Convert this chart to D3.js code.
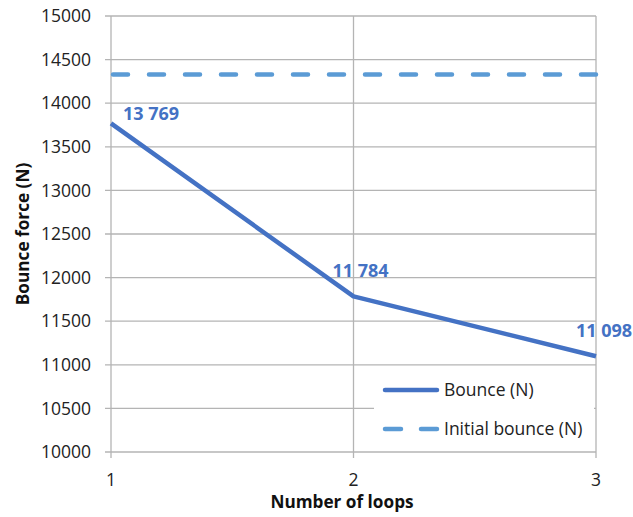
<!DOCTYPE html>
<html><head><meta charset="utf-8">
<script src="https://cdn.jsdelivr.net/npm/d3@7"></script>
<style>body{margin:0;background:#fff}</style>
</head><body>
<svg id="c" width="633" height="517"></svg>
<script>
const loops = [1, 2, 3];
const bounce = [13769, 11784, 11098];
const bounceLabels = ["13 769", "11 784", "11 098"];
const initialBounce = 14330;
const yTicks = [10000, 10500, 11000, 11500, 12000, 12500, 13000, 13500, 14000, 14500, 15000];
const xTicks = [1, 2, 3];

const svg = d3.select("#c");
const m = {l: 111, r: 596, t: 16, b: 452};
const x = d3.scaleLinear().domain([1, 3]).range([m.l, m.r]);
const y = d3.scaleLinear().domain([10000, 15000]).range([m.b, m.t]);
const grid = "#b4b4b4";
const font = "'Open Sans', sans-serif";

// horizontal gridlines
svg.append("g").selectAll("line").data(yTicks).join("line")
  .attr("x1", m.l - 6).attr("x2", m.r)
  .attr("y1", d => y(d)).attr("y2", d => y(d))
  .attr("stroke", grid).attr("stroke-width", 1.3);
// vertical gridlines
svg.append("g").selectAll("line").data(xTicks).join("line")
  .attr("x1", d => x(d)).attr("x2", d => x(d))
  .attr("y1", m.t).attr("y2", m.b + 6)
  .attr("stroke", grid).attr("stroke-width", 1.3);

// y tick labels
svg.append("g").selectAll("text").data(yTicks).join("text")
  .attr("x", 91).attr("y", d => y(d)).attr("dy", "0.35em")
  .attr("text-anchor", "end").attr("font-family", font).attr("font-size", 17.5)
  .attr("fill", "#222").text(d => d);
// x tick labels
svg.append("g").selectAll("text").data(xTicks).join("text")
  .attr("x", d => x(d)).attr("y", 486)
  .attr("text-anchor", "middle").attr("font-family", font).attr("font-size", 17.5)
  .attr("fill", "#222").text(d => d);

// axis titles
svg.append("text").attr("x", 342).attr("y", 508).attr("text-anchor", "middle")
  .attr("font-family", font).attr("font-size", 17.2).attr("font-weight", "bold")
  .attr("fill", "#111").text("Number of loops");
svg.append("text").attr("transform", `translate(29,234) rotate(-90)`)
  .attr("text-anchor", "middle")
  .attr("font-family", font).attr("font-size", 17.2).attr("font-weight", "bold")
  .attr("fill", "#111").text("Bounce force (N)");

// initial bounce dashed line
svg.append("line").attr("x1", x(1)).attr("x2", x(3))
  .attr("y1", y(initialBounce)).attr("y2", y(initialBounce))
  .attr("stroke", "#5b9bd5").attr("stroke-width", 4.5)
  .attr("stroke-dasharray", "15,21").attr("stroke-dashoffset", -2)
  .attr("stroke-linecap", "round");

// bounce line
const line = d3.line().x((d, i) => x(loops[i])).y(d => y(d));
svg.append("path").datum(bounce).attr("d", line)
  .attr("fill", "none").attr("stroke", "#4472c4").attr("stroke-width", 4.5)
  .attr("stroke-linejoin", "round");

// data labels
const labelDx = [12, -21, -20];
const labelDy = [-10, -26, -26];
svg.append("g").selectAll("text").data(bounce).join("text")
  .attr("x", (d, i) => x(loops[i]) + labelDx[i])
  .attr("y", (d, i) => y(d) + labelDy[i]).attr("dy", "0.35em")
  .attr("font-family", font).attr("font-size", 18).attr("font-weight", "bold")
  .attr("fill", "#4472c4").text((d, i) => bounceLabels[i]);

// legend
const lg = svg.append("g");
lg.append("rect").attr("x", 374).attr("y", 369).attr("width", 220).attr("height", 81).attr("fill", "#fff");
lg.append("line").attr("x1", 385).attr("x2", 437).attr("y1", 390).attr("y2", 390)
  .attr("stroke", "#4472c4").attr("stroke-width", 4.5).attr("stroke-linecap", "round");
lg.append("line").attr("x1", 385).attr("x2", 437).attr("y1", 429).attr("y2", 429)
  .attr("stroke", "#5b9bd5").attr("stroke-width", 4.5).attr("stroke-linecap", "round")
  .attr("stroke-dasharray", "16,20");
lg.append("text").attr("x", 444).attr("y", 390).attr("dy", "0.35em")
  .attr("font-family", font).attr("font-size", 17.5).attr("fill", "#222").text("Bounce (N)");
lg.append("text").attr("x", 444).attr("y", 429).attr("dy", "0.35em")
  .attr("font-family", font).attr("font-size", 17.5).attr("fill", "#222").text("Initial bounce (N)");
</script>
</body></html>
